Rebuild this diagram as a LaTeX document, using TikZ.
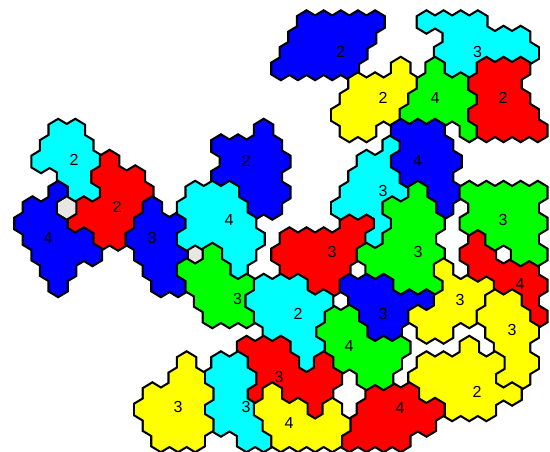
\documentclass[tikz,border=0pt]{standalone}
\usepackage{fontspec}
\setmainfont{Liberation Sans}
\definecolor{cblue}{RGB}{0,0,255}
\definecolor{ccyan}{RGB}{0,255,255}
\definecolor{cred}{RGB}{255,0,0}
\definecolor{cyel}{RGB}{255,255,0}
\definecolor{cgreen}{RGB}{0,255,0}
\definecolor{cgray}{RGB}{232,230,226}
\tikzset{
  border/.style={draw=black,line width=4.4pt,line join=miter},
  lab/.style={font=\fontsize{16}{16}\selectfont,inner sep=0pt}
}
\newcommand\hrow[2]{\foreach \q in {#2}{%
  \pgfmathsetmacro\hx{-1.8+8.565*\q}%
  \pgfmathsetmacro\hy{11.67+15.5*#1}%
  \xdef\hexacc{\hexacc (\hx,\hy) -- ++(8.565,5.165) -- ++(0,10.33) -- ++(-8.565,5.165) -- ++(-8.565,-5.165) -- ++(0,-10.33) -- cycle }}}
\newcommand\region[3]{\gdef\hexacc{}#3%
  \edef\tmpcmd{\noexpand\path[border] \hexacc; \noexpand\path[fill=#2] \hexacc;}\tmpcmd}
\begin{document}
\begin{tikzpicture}[x=1pt,y=-1pt]
\useasboundingbox (0,0) rectangle (550,451);
\fill[white] (0,0) rectangle (550,451);
% A top blue 2
\region{A}{cblue}{\hrow{0}{36,38,40,42,44}\hrow{1}{35,37,39,41,43}\hrow{2}{34,36,38,40,42}\hrow{3}{33,35,37,39,41}}
% B cyan 3 top right
\region{B}{ccyan}{\hrow{0}{50,52,54,56}\hrow{1}{53,55,57,59,61}\hrow{2}{52,54,56,58,60,62}\hrow{3}{53,55}}
% C yellow 2
\region{C}{cyel}{\hrow{3}{47}\hrow{4}{42,44,46,48}\hrow{5}{41,43,45,47}\hrow{6}{40,42,44,46}\hrow{7}{41,43}}
% D green 4
\region{D}{cgreen}{\hrow{3}{51}\hrow{4}{50,52,54}\hrow{5}{49,51,53,55}\hrow{6}{48,50,52,54}\hrow{7}{55}}
% E red 2
\region{E}{cred}{\hrow{3}{57,59,61}\hrow{4}{56,58,60}\hrow{5}{57,59,61}\hrow{6}{56,58,60,62}\hrow{7}{57,59,61,63}}
% F cyan 2 left
\region{F}{ccyan}{\hrow{7}{7,9}\hrow{8}{6,8,10}\hrow{9}{5,7,9,11}\hrow{10}{8,10}\hrow{11}{9,11}}
% G red 2 left
\region{G}{cred}{\hrow{9}{13}\hrow{10}{12,14,16}\hrow{11}{13,15,17}\hrow{12}{10,12,14,16}\hrow{13}{9,11,13,15}\hrow{14}{12,14}}
% H blue 4 left
\region{H}{cblue}{\hrow{11}{7}\hrow{12}{4,6}\hrow{13}{3,5,7}\hrow{14}{4,6,8,10}\hrow{15}{5,7,9,11}\hrow{16}{6,8}\hrow{17}{7}}
% gray cells
\region{g1}{cgray}{\hrow{12}{8}}
\region{g2}{cgray}{\hrow{15}{23}}
% I blue 3
\region{I}{cblue}{\hrow{12}{18}\hrow{13}{17,19,21}\hrow{14}{16,18,20}\hrow{15}{17,19,21}\hrow{16}{18,20}\hrow{17}{19,21}}
% J blue 2
\region{J}{cblue}{\hrow{7}{31}\hrow{8}{26,28,30,32}\hrow{9}{27,29,31,33}\hrow{10}{26,28,30,32}\hrow{11}{29,31,33}\hrow{12}{30,32}}
% K cyan 4
\region{K}{ccyan}{\hrow{11}{23,25,27}\hrow{12}{22,24,26,28}\hrow{13}{23,25,27,29}\hrow{14}{22,24,26,28,30}\hrow{15}{27,29}\hrow{16}{28}}
% L green 3
\region{L}{cgreen}{\hrow{15}{25}\hrow{16}{22,24,26}\hrow{17}{23,25,27,29}\hrow{18}{24,26,28}\hrow{19}{25,27,29}}
% M red 3
\region{M}{cred}{\hrow{13}{41,43}\hrow{14}{34,36,38,40,42}\hrow{15}{33,35,37,39,41}\hrow{16}{34,36,38,40}\hrow{17}{37,39}}
% N cyan 3
\region{N}{ccyan}{\hrow{8}{46}\hrow{9}{43,45}\hrow{10}{42,44,46}\hrow{11}{41,43,45,47}\hrow{12}{40,42,44}\hrow{13}{45}\hrow{14}{44}}
% O blue 4
\region{O}{cblue}{\hrow{7}{47,49,51}\hrow{8}{48,50,52}\hrow{9}{47,49,51,53}\hrow{10}{48,50,52}\hrow{11}{51,53}\hrow{12}{52}}
% P green 3
\region{P}{cgreen}{\hrow{11}{49}\hrow{12}{46,48,50}\hrow{13}{47,49,51}\hrow{14}{46,48,50}\hrow{15}{43,45,47,49,51}\hrow{16}{44,46,48,50}\hrow{17}{47,49,51}}
% Q blue 3
\region{Q}{cblue}{\hrow{17}{41,43,45}\hrow{18}{42,44,46,48,50}\hrow{19}{43,45,47}\hrow{20}{44,46}}
% R yellow 3
\region{R}{cyel}{\hrow{16}{52}\hrow{17}{53,55,57}\hrow{18}{52,54,56}\hrow{19}{49,51,53,55}\hrow{20}{50,52}}
% S red 4 right
\region{S}{cred}{\hrow{14}{56}\hrow{15}{55,57}\hrow{16}{56,58,60,62}\hrow{17}{59,61,63}\hrow{18}{62}\hrow{19}{63}}
% T green 3 right
\region{T}{cgreen}{\hrow{11}{55,57,59,61,63}\hrow{12}{56,58,60,62}\hrow{13}{55,57,59,61,63}\hrow{14}{58,60,62}\hrow{15}{61,63}}
% U yellow 3 right
\region{U}{cyel}{\hrow{18}{58,60}\hrow{19}{57,59,61}\hrow{20}{58,60,62}\hrow{21}{59,61}\hrow{22}{60,62}\hrow{23}{59,61}}
% V yellow 2
\region{V}{cyel}{\hrow{21}{55}\hrow{22}{50,52,54,56,58}\hrow{23}{49,51,53,55,57}\hrow{24}{50,52,54,56,58,60}\hrow{25}{53,55,57}}
% W red 4 bottom
\region{W}{cred}{\hrow{24}{44,46,48}\hrow{25}{43,45,47,49,51}\hrow{26}{42,44,46,48,50}\hrow{27}{41,43,45,47}}
% X green 4
\region{X}{cgreen}{\hrow{19}{39,41}\hrow{20}{38,40,42}\hrow{21}{39,41,43,45,47}\hrow{22}{40,42,44,46}\hrow{23}{43,45}}
% Y cyan 2
\region{Y}{ccyan}{\hrow{17}{31,33,35}\hrow{18}{30,32,34,36,38}\hrow{19}{31,33,35,37}\hrow{20}{32,34,36}\hrow{21}{35,37}\hrow{22}{36}}
% Z red 3 lower
\region{Z}{cred}{\hrow{21}{29,31,33}\hrow{22}{30,32,34,38}\hrow{23}{31,33,35,37,39}\hrow{24}{30,34,36,38}\hrow{25}{37}}
% AA cyan 3 bottom
\region{AA}{ccyan}{\hrow{22}{26,28}\hrow{23}{25,27,29}\hrow{24}{26,28}\hrow{25}{25,27,29}\hrow{26}{26,28,30}\hrow{27}{29,31}}
% BB yellow 4
\region{BB}{cyel}{\hrow{24}{32}\hrow{25}{31,33,35,39}\hrow{26}{32,34,36,38,40}\hrow{27}{33,35,37,39}}
% CC yellow 3 bottom left
\region{CC}{cyel}{\hrow{22}{22}\hrow{23}{21,23}\hrow{24}{18,20,22,24}\hrow{25}{17,19,21,23}\hrow{26}{18,20,22,24}\hrow{27}{19,21,23}}
% labels
\node[lab] (lA) at (340.5,52) {2};
\node[lab] (lB) at (477.5,52) {3};
\node[lab] (lC) at (383,98) {2};
\node[lab] (lD) at (435,98) {4};
\node[lab] (lE) at (503,98) {2};
\node[lab] (lF) at (74,160) {2};
\node[lab] (lG) at (117,207) {2};
\node[lab] (lH) at (48,238) {4};
\node[lab] (lI) at (152,238) {3};
\node[lab] (lJ) at (246,161) {2};
\node[lab] (lK) at (229,220) {4};
\node[lab] (lL) at (237.5,299) {3};
\node[lab] (lM) at (332,252) {3};
\node[lab] (lN) at (383,190.5) {3};
\node[lab] (lO) at (417.5,160.5) {4};
\node[lab] (lP) at (418,252) {3};
\node[lab] (lQ) at (383,314) {3};
\node[lab] (lR) at (460,300) {3};
\node[lab] (lS) at (520,284) {4};
\node[lab] (lT) at (503,220) {3};
\node[lab] (lU) at (512,330) {3};
\node[lab] (lV) at (477,392) {2};
\node[lab] (lW) at (400,408) {4};
\node[lab] (lX) at (349,346) {4};
\node[lab] (lY) at (298,314) {2};
\node[lab] (lZ) at (279,377) {3};
\node[lab] (lAA) at (246,407) {3};
\node[lab] (lBB) at (289,423) {4};
\node[lab] (lCC) at (178,407) {3};
\end{tikzpicture}
\end{document}
